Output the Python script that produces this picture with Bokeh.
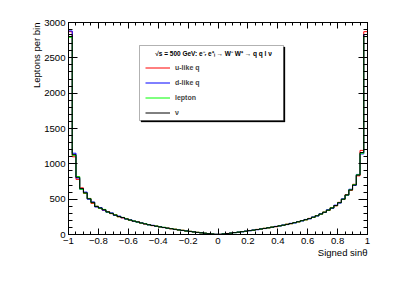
import numpy as np
from bokeh.plotting import figure
from bokeh.models import (Range1d, FixedTicker, LinearAxis, Label, BoxAnnotation,
                          Legend, LegendItem, CustomJSTickFormatter, Title)
from bokeh.embed import file_html
from bokeh.resources import INLINE

# ---------------- data ----------------
bin_lo, bin_hi, n_bins = -1.0, 1.0, 80

u_like_q = [2870, 1100, 780, 660, 580, 510, 440, 400, 370, 345,
            325, 295, 280, 250, 235, 225, 200, 185, 180, 160,
            148, 140, 125, 120, 105, 98, 92, 80, 75, 63,
            60, 48, 45, 35, 31, 22, 19, 11, 8, 2,
            3, 7, 15, 19, 28, 32, 42, 45, 57, 60,
            72, 76, 88, 93, 106, 110, 125, 130, 146, 152,
            170, 178, 198, 207, 228, 242, 268, 287, 318, 340,
            380, 405, 455, 495, 565, 625, 710, 830, 1190, 2870]

d_like_q = [2880, 1150, 800, 640, 600, 500, 460, 390, 380, 345,
            315, 305, 270, 260, 238, 218, 208, 188, 175, 165,
            152, 136, 130, 115, 110, 98, 88, 84, 70, 67,
            56, 52, 42, 38, 28, 25, 17, 13, 6, 3,
            2, 9, 13, 21, 26, 35, 38, 49, 53, 64,
            68, 80, 84, 97, 102, 115, 120, 135, 140, 158,
            163, 183, 192, 213, 222, 248, 262, 293, 312, 350,
            370, 415, 445, 505, 555, 640, 695, 850, 1140, 2830]

lepton = [2790, 1120, 820, 640, 585, 510, 450, 400, 370, 355,
          318, 298, 278, 252, 242, 222, 203, 192, 176, 162,
          153, 137, 127, 120, 106, 102, 89, 83, 74, 64,
          59, 49, 45, 36, 31, 23, 19, 12, 7, 2,
          2, 8, 14, 20, 26, 34, 40, 46, 56, 61,
          71, 77, 87, 94, 105, 112, 123, 131, 144, 153,
          168, 179, 196, 208, 226, 243, 266, 288, 316, 343,
          378, 408, 452, 498, 558, 632, 705, 845, 1150, 2800]

neutrino = [2830, 1130, 810, 650, 590, 505, 455, 395, 375, 350,
            320, 300, 275, 255, 240, 220, 205, 190, 178, 163,
            150, 138, 128, 118, 108, 100, 90, 82, 73, 65,
            58, 50, 44, 37, 30, 24, 18, 12, 7, 2,
            2, 8, 14, 20, 27, 33, 40, 47, 55, 62,
            70, 78, 86, 95, 104, 113, 122, 132, 143, 155,
            167, 180, 195, 210, 225, 245, 265, 290, 315, 345,
            375, 410, 450, 500, 560, 630, 700, 840, 1160, 2830]

series_labels = ["u-like q", "d-like q", "lepton", "\u03bd"]
x_ticks = [-1.0, -0.8, -0.6, -0.4, -0.2, 0.0, 0.2, 0.4, 0.6, 0.8, 1.0]
y_ticks = [0, 500, 1000, 1500, 2000, 2500, 3000]
y_max = 3000

title_text = "\u221as = 500 GeV: e\u207b\u1d63 e\u207a\u2097 \u2192 W\u207b W\u207a \u2192 q q l \u03bd"
x_title = "Signed sin\u03b8"
y_title = "Leptons per bin"

# ---------------- layout ----------------
W, H = 398, 285
FL, FT = 68, 22
FW, FH = 299, 212
FR = W - FL - FW
FB = H - FT - FH
FONT = "Liberation Sans"


def px_x(px):
    return bin_lo + (px - FL) / FW * (bin_hi - bin_lo)


def px_y(py):
    return (FT + FH - py) / FH * y_max


p = figure(width=W, height=H, x_range=Range1d(bin_lo, bin_hi), y_range=Range1d(0, y_max),
           output_backend="svg", toolbar_location=None,
           min_border_left=FL, min_border_right=FR, min_border_top=FT, min_border_bottom=FB)
p.xgrid.visible = False
p.ygrid.visible = False
p.outline_line_color = "black"
p.background_fill_color = "white"
p.border_fill_color = "white"

x_minor = [round(v, 3) for v in np.arange(-1.0, 1.0001, 0.05)]
y_minor = list(range(0, y_max + 1, 100))

fmt = CustomJSTickFormatter(code=r"""
var s = tick.toFixed(1).replace(/\.0$/, '');
return s.replace('-', '\u2212');
""")
blank = CustomJSTickFormatter(code="return '';")


def style_axis(ax, major, minor):
    ax.axis_line_color = "black"
    ax.axis_line_width = 1
    ax.major_tick_line_color = "black"
    ax.minor_tick_line_color = "black"
    ax.major_tick_in = major
    ax.major_tick_out = 0
    ax.minor_tick_in = minor
    ax.minor_tick_out = 0
    ax.major_label_text_font = FONT
    ax.major_label_text_font_size = "9.6px"
    ax.major_label_text_color = "black"
    ax.major_label_standoff = 3


xa = p.xaxis[0]
xa.ticker = FixedTicker(ticks=x_ticks, minor_ticks=x_minor)
xa.formatter = fmt
style_axis(xa, 6, 3)

ya = p.yaxis[0]
ya.ticker = FixedTicker(ticks=y_ticks, minor_ticks=y_minor)
style_axis(ya, 9, 4)

top = LinearAxis(ticker=FixedTicker(ticks=x_ticks, minor_ticks=x_minor), formatter=blank)
style_axis(top, 6, 3)
top.major_label_standoff = 0
p.add_layout(top, "above")
right = LinearAxis(ticker=FixedTicker(ticks=y_ticks, minor_ticks=y_minor), formatter=blank)
style_axis(right, 9, 4)
right.major_label_standoff = 0
p.add_layout(right, "right")

# ---------------- histograms ----------------
edges = np.linspace(bin_lo, bin_hi, n_bins + 1)
xs = [edges[0]] + list(edges)
colors = ["#ff0000", "#0000ff", "#00ff00", "#000000"]
renderers = []
for vals, col in zip([u_like_q, d_like_q, lepton, neutrino], colors):
    ys = [0] + list(vals) + [0]
    r = p.step(xs, ys, mode="after", line_color=col, line_width=1)
    renderers.append(r)

# ---------------- legend ----------------
shadow = BoxAnnotation(left=px_x(140.5), right=px_x(284.5), top=px_y(46.5), bottom=px_y(121.5),
                       fill_color="black", fill_alpha=1, line_color="black", line_width=1)
box = BoxAnnotation(left=px_x(139), right=px_x(283), top=px_y(45), bottom=px_y(120),
                    fill_color="white", fill_alpha=1, line_color="black", line_width=1)
p.add_layout(shadow)
p.add_layout(box)

p.add_layout(Label(x=px_x(213), y=px_y(52.7), text=title_text, text_align="center",
                   text_baseline="middle", text_font=FONT, text_font_size="6.5px",
                   text_font_style="bold", text_color="black"))

legend = Legend(items=[LegendItem(label=lab, renderers=[r]) for lab, r in zip(series_labels, renderers)],
                location=(77, 114), glyph_width=25, glyph_height=15, label_height=15,
                spacing=0, padding=0, margin=0, label_standoff=5,
                label_text_font=FONT, label_text_font_size="7px", label_text_font_style="bold",
                background_fill_alpha=0, border_line_alpha=0)
p.add_layout(legend)

# ---------------- axis titles ----------------
p.add_layout(Title(text=y_title, align="right", text_font=FONT, text_font_size="9.5px",
                   text_font_style="normal", text_color="black", standoff=0), "left")
p.add_layout(Title(text=x_title, align="right", text_font=FONT, text_font_size="9.5px",
                   text_font_style="normal", text_color="black", standoff=-4), "below")

open("out.html", "w").write(file_html(p, INLINE))
